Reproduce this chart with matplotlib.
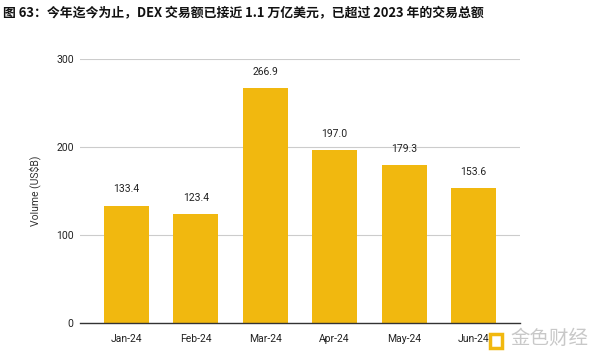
import matplotlib
matplotlib.use("Agg")
import matplotlib.pyplot as plt

months = ["Jan-24", "Feb-24", "Mar-24", "Apr-24", "May-24", "Jun-24"]
volumes = [133.4, 123.4, 266.9, 197.0, 179.3, 153.6]
yticks = [0, 100, 200, 300]
title = "图 63：今年迄今为止，DEX 交易额已接近 1.1 万亿美元，已超过 2023 年的交易总额"
ylabel = "Volume (US$B)"

plt.rcParams['font.family'] = ['Noto Sans CJK SC', 'DejaVu Sans']

fig = plt.figure(figsize=(6, 3.57), dpi=100)
ax = fig.add_axes([80/600, 34/357, 440/600, 264/357])

x = range(len(months))
ax.bar(x, volumes, width=0.65, color="#F1B80F", zorder=3)
for xi, v in zip(x, volumes):
    ax.annotate(f"{v:.1f}", (xi, v), xytext=(0, 8), textcoords="offset points",
                ha="center", va="bottom", fontsize=7.5, color="#222222",
                family=["Roboto", "DejaVu Sans"])

ax.set_xlim(-0.67, 5.67)
ax.set_ylim(0, 300)
ax.set_yticks(yticks)
ax.set_xticks(list(x))
ax.set_xticklabels(months)
for lab in ax.get_xticklabels() + ax.get_yticklabels():
    lab.set_fontfamily(["Roboto", "DejaVu Sans"])
    lab.set_fontsize(7.5)
    lab.set_color("#222222")
ax.tick_params(axis="both", length=0)
ax.tick_params(axis="y", pad=4.5)
ax.tick_params(axis="x", pad=8)
ax.grid(axis="y", color="#cccccc", linewidth=0.8, zorder=0)
for s in ["top", "right", "left"]:
    ax.spines[s].set_visible(False)
ax.spines["bottom"].set_color("#333333")
ax.spines["bottom"].set_linewidth(1.0)
ax.spines["bottom"].set_zorder(4)
ax.set_ylabel(ylabel, fontsize=7.5, color="#333333", family=["Roboto", "DejaVu Sans"], labelpad=11)

fig.text(3/600, 1 - 13/357, title, fontsize=9.3, fontweight="bold", ha="left", va="center",
         color="#111111")

# watermark
fig.text(0.915, 1 - 338/357, "金色财经", fontsize=14, color="#c8c8c8", ha="center", va="center")
fig.patches.append(matplotlib.patches.Rectangle((490/600, 1 - 348/357), 12/600, 14/357,
                   transform=fig.transFigure, facecolor="none", edgecolor="#F1B80F", linewidth=2.5))

fig.savefig("out.png", dpi=100)
